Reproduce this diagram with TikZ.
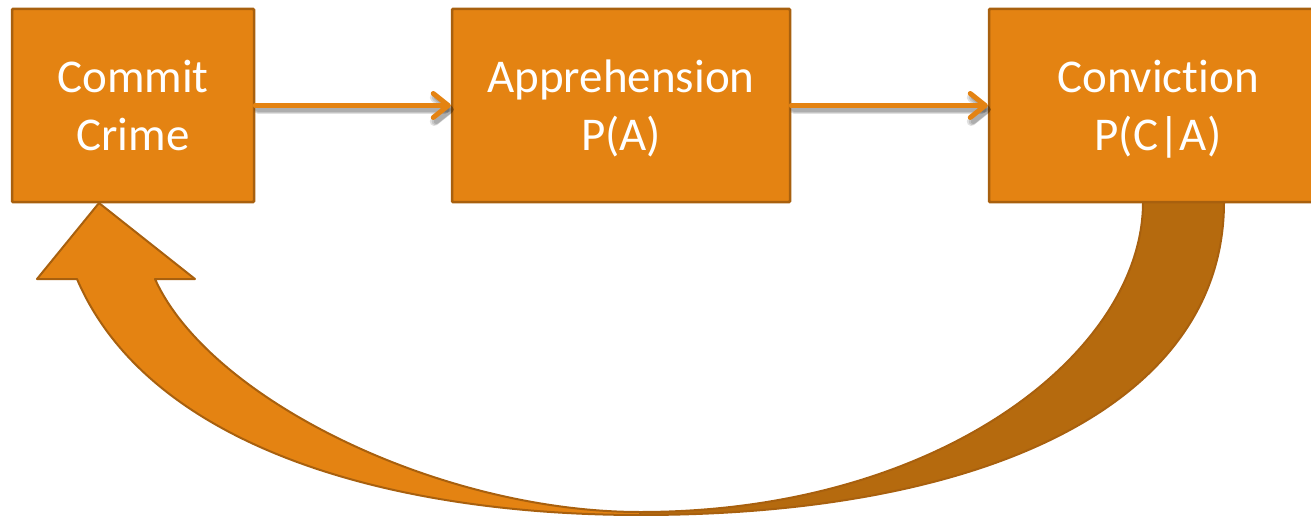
\documentclass[tikz,border=0pt]{standalone}
\usepackage{fontspec}
\setmainfont{Carlito}[Ligatures={NoCommon}]
\usetikzlibrary{arrows.meta}
\definecolor{boxfill}{RGB}{228,131,18}
\definecolor{boxline}{RGB}{168,96,14}
\definecolor{backfill}{RGB}{181,106,14}
\begin{document}
\begin{tikzpicture}[x=1pt,y=-1pt,
  stagebox/.style={draw=boxline, line width=2.5pt, fill=boxfill, rounded corners=1pt, inner sep=0pt, minimum height=193pt},
  lbl/.style={text=white, font=\fontsize{47}{57}\selectfont, anchor=base, inner sep=0pt},
  conn/.style={draw=boxfill, line width=5pt, line cap=round, -{Straight Barb[length=15pt,width=24pt,round]}},
  connshadow/.style={draw=black, line width=#1, opacity=0.12, line cap=round, -{Straight Barb[length=15pt,width=24pt,round]}},
  bigarrow/.style={draw=boxline, line width=2pt, fill=boxfill, line join=round},
  bigback/.style={draw=boxline, line width=2pt, fill=backfill, line join=round}]
\useasboundingbox (0,0) rectangle (1311,516);
\clip (0,0) rectangle (1311,516);
% back part of the curved arrow
\draw[bigback] (1143,195) -- (1143,202) .. controls (1143,352) and (940,512) .. (640,512) -- (640,515) .. controls (990,515) and (1224,402) .. (1224,202) -- (1224,195) -- cycle;
% front part of the curved arrow
\draw[bigarrow] (99,203) -- (195,279) -- (155,279) .. controls (209,399) and (440,512) .. (640,512) -- (640,515) .. controls (390,515) and (149,447) .. (77,279) -- (37,279) -- cycle;
% boxes
\node[stagebox, minimum width=242pt] (commit) at (133,105.5) {};
\node[stagebox, minimum width=338pt] (appr) at (621,105.5) {};
\node[stagebox, minimum width=338pt] (conv) at (1158,105.5) {};
% labels
\node[lbl] (t1a) at (133,93) {Commit};
\node[lbl] (t1b) at (133,150) {Crime};
\node[lbl] (t2a) at (621,93) {Apprehension};
\node[lbl] (t2b) at (621,150) {P(A)};
\node[lbl] (t3a) at (1158,93) {Conviction};
\node[lbl] (t3b) at (1158,150) {P(C|A)};
% connectors with soft shadow
\foreach \w in {9pt,7pt,5pt}{
  \draw[connshadow=\w] ([shift={(3,4)}]commit.east) -- ([shift={(3,4)}]appr.west);
  \draw[connshadow=\w] ([shift={(3,4)}]appr.east) -- ([shift={(3,4)}]conv.west);
}
\draw[conn] (commit.east) -- (appr.west);
\draw[conn] (appr.east) -- (conv.west);
\end{tikzpicture}
\end{document}
